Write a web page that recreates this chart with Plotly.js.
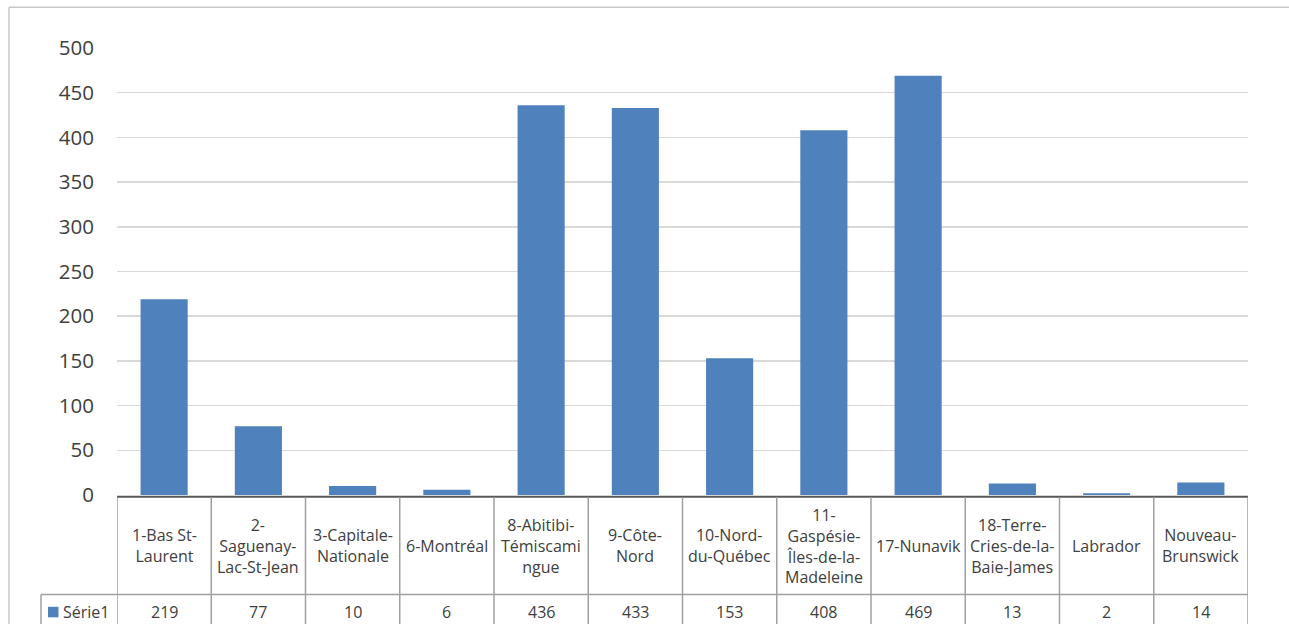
<!DOCTYPE html>
<html>
<head>
<meta charset="utf-8">
<script src="https://cdn.plot.ly/plotly-3.0.1.min.js"></script>
<style>
  html, body { margin: 0; padding: 0; background: #ffffff; }
  #chart { width: 1289px; height: 624px; }
</style>
</head>
<body>
<div id="chart"></div>
<script>
// Regions (categories) and their counts
const categories = [
  "1-Bas St-Laurent", "2-Saguenay-Lac-St-Jean", "3-Capitale-Nationale", "6-Montréal",
  "8-Abitibi-Témiscamingue", "9-Côte-Nord", "10-Nord-du-Québec", "11-Gaspésie-Îles-de-la-Madeleine",
  "17-Nunavik", "18-Terre-Cries-de-la-Baie-James", "Labrador", "Nouveau-Brunswick"
];
// Wrapped labels shown in the data table header row
const tableLabels = [
  "1-Bas St-<br>Laurent", "2-<br>Saguenay-<br>Lac-St-Jean", "3-Capitale-<br>Nationale", "6-Montréal",
  "8-Abitibi-<br>Témiscami<br>ngue", "9-Côte-<br>Nord", "10-Nord-<br>du-Québec", "11-<br>Gaspésie-<br>Îles-de-la-<br>Madeleine",
  "17-Nunavik", "18-Terre-<br>Cries-de-la-<br>Baie-James", "Labrador", "Nouveau-<br>Brunswick"
];
const seriesName = "Série1";
const serie1 = [219, 77, 10, 6, 436, 433, 153, 408, 469, 13, 2, 14];
const yTicks = [0, 50, 100, 150, 200, 250, 300, 350, 400, 450, 500];

// Plot-area geometry in pixels (used to place the table below the axis)
const W = 1289, H = 624;
const L = 117, R = 1248, T = 47.7, B = 494.7;
const fx = px => (px - L) / (R - L);
const fy = py => (B - py) / (B - T);

const barColor = "#4f81bd";
const textColor = "#404040";
const tableLine = "#a0a0a0";
const font = "'Open Sans', 'DejaVu Sans', sans-serif";

const idx = categories.map((_, i) => i);

const shapes = [];
// Outer chart frame (left and top edges)
shapes.push({type: "line", xref: "paper", yref: "paper", x0: fx(9), x1: fx(9), y0: fy(7), y1: fy(H + 5), line: {color: "#c8c8c8", width: 1.5}, layer: "below"});
shapes.push({type: "line", xref: "paper", yref: "paper", x0: fx(9), x1: fx(W + 5), y0: fy(7), y1: fy(7), line: {color: "#c8c8c8", width: 1.5}, layer: "below"});

// Horizontal axis line / table top
shapes.push({type: "line", xref: "x", yref: "paper", x0: -0.5, x1: categories.length - 0.5, y0: fy(496.5), y1: fy(496.5), line: {color: "#595959", width: 2}});
// Header row bottom
shapes.push({type: "line", xref: "paper", yref: "paper", x0: fx(41), x1: fx(R), y0: fy(594.3), y1: fy(594.3), line: {color: tableLine, width: 1.5}});
// Column separators
for (let i = 0; i <= categories.length; i++) {
  shapes.push({type: "line", xref: "x", yref: "paper", x0: i - 0.5, x1: i - 0.5, y0: fy(497), y1: fy(H + 5), line: {color: tableLine, width: 1.5}});
}
// Legend cell left edge
shapes.push({type: "line", xref: "paper", yref: "paper", x0: fx(41), x1: fx(41), y0: fy(594.3), y1: fy(H + 5), line: {color: tableLine, width: 1.5}});
// Legend key square
shapes.push({type: "rect", xref: "paper", yref: "paper", x0: fx(48), x1: fx(58.5), y0: fy(606.5), y1: fy(617), fillcolor: barColor, line: {width: 0}});

const annotations = [];
idx.forEach(i => {
  annotations.push({xref: "x", yref: "paper", x: i, y: fy(545.5), text: tableLabels[i], showarrow: false,
    xanchor: "center", yanchor: "middle", align: "center", font: {family: font, size: 16, color: textColor}});
  annotations.push({xref: "x", yref: "paper", x: i, y: fy(611.5), text: String(serie1[i]), showarrow: false,
    xanchor: "center", yanchor: "middle", font: {family: font, size: 16, color: textColor}});
});
annotations.push({xref: "paper", yref: "paper", x: fx(61), y: fy(611.5), text: seriesName, showarrow: false,
  xanchor: "left", yanchor: "middle", font: {family: font, size: 16, color: textColor}});

const data = [{
  type: "bar",
  name: seriesName,
  x: idx,
  y: serie1,
  text: categories,
  hoverinfo: "text+y",
  textposition: "none",
  marker: {color: barColor, line: {width: 0}}
}];

const layout = {
  width: W, height: H,
  margin: {l: L, r: W - R, t: T, b: H - B, pad: 0},
  paper_bgcolor: "#ffffff",
  plot_bgcolor: "#ffffff",
  showlegend: false,
  bargap: 0.5,
  xaxis: {
    range: [-0.5, categories.length - 0.5],
    showticklabels: false, showgrid: false, zeroline: false, showline: false, ticks: "",
    fixedrange: true
  },
  yaxis: {
    range: [0, 500],
    tickvals: yTicks,
    ticktext: yTicks.map(String),
    showgrid: true, gridcolor: "#d9d9d9", gridwidth: 1.5,
    zeroline: false, showline: false, ticks: "",
    ticklabelstandoff: 22,
    tickfont: {family: font, size: 20.5, color: textColor},
    fixedrange: true
  },
  shapes: shapes,
  annotations: annotations
};

Plotly.newPlot("chart", data, layout, {staticPlot: true, displayModeBar: false});
</script>
</body>
</html>
